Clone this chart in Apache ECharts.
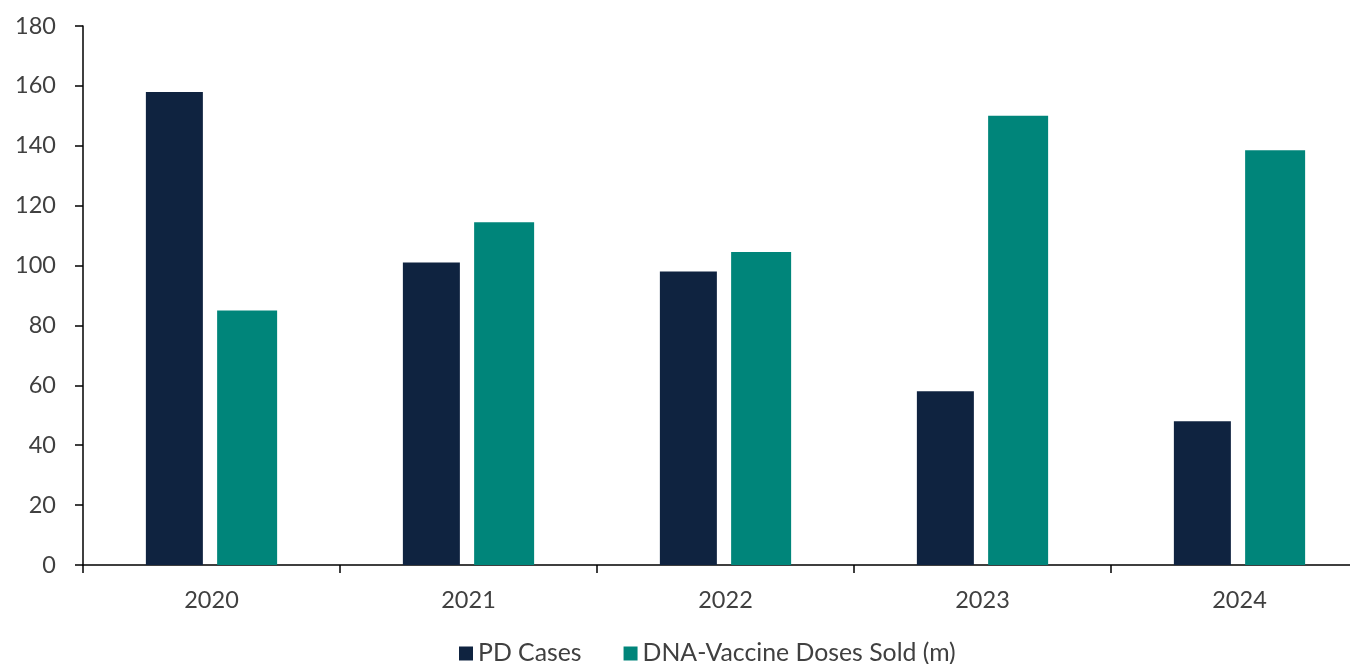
<!DOCTYPE html>
<html>
<head>
<meta charset="utf-8">
<script src="https://cdn.jsdelivr.net/npm/echarts@6/dist/echarts.min.js"></script>
<style>
html,body{margin:0;padding:0;background:#fff;}
#chart{width:1350px;height:664px;}
</style>
</head>
<body>
<div id="chart"></div>
<script>
const categories = ['2020', '2021', '2022', '2023', '2024'];
const pdCases = [158, 101, 98, 58, 48];
const vaccineDoses = [85, 114.5, 104.5, 150, 138.5];
const seriesNames = ['PD Cases', 'DNA-Vaccine Doses Sold (m)'];

const chart = echarts.init(document.getElementById('chart'), null, {renderer: 'canvas'});
const font = 'Lato, "Open Sans", sans-serif';
chart.setOption({
  animation: false,
  backgroundColor: '#ffffff',
  grid: {left: 83, width: 1285, top: 26, bottom: 99, containLabel: false, outerBoundsMode: 'none'},
  legend: {
    data: seriesNames,
    left: 459, top: 641, padding: 0,
    itemWidth: 14, itemHeight: 14, itemGap: 42,
    icon: 'rect',
    textStyle: {fontFamily: font, fontSize: 24.8, color: '#404040', padding: [0, 0, 0, 0]}
  },
  xAxis: {
    type: 'category',
    data: categories,
    axisLine: {lineStyle: {color: '#000', width: 1.5}},
    axisTick: {show: true, length: 8, lineStyle: {color: '#000', width: 1.5}},
    axisLabel: {fontFamily: font, fontSize: 23.5, color: '#404040', margin: 23}
  },
  yAxis: {
    type: 'value',
    min: 0, max: 180, interval: 20,
    splitLine: {show: false},
    axisLine: {show: true, lineStyle: {color: '#000', width: 1.5}},
    axisTick: {show: true, length: 8, lineStyle: {color: '#000', width: 1.5}},
    axisLabel: {fontFamily: font, fontSize: 23.5, color: '#404040', margin: 27}
  },
  series: [
    {name: seriesNames[0], type: 'bar', data: pdCases, barWidth: 57, barGap: '25%',
     itemStyle: {color: '#0f2340'}},
    {name: seriesNames[1], type: 'bar', data: vaccineDoses, barWidth: 60, barGap: '25%',
     itemStyle: {color: '#00857a'}}
  ]
});
</script>
</body>
</html>
